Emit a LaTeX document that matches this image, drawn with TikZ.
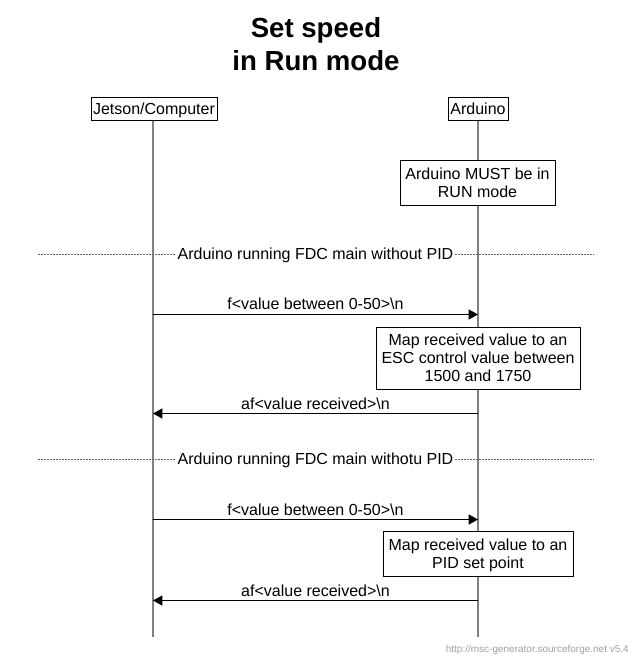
\documentclass[tikz,border=0pt]{standalone}
\usepackage{fontspec}
\setmainfont{Liberation Sans}
\usetikzlibrary{arrows.meta}
\definecolor{lifegray}{HTML}{808080}
\definecolor{dotgray}{HTML}{606060}
\definecolor{footgray}{HTML}{A0A0A0}
\begin{document}
\begin{tikzpicture}[x=0.75pt,y=-0.75pt,
  base/.style={font=\fontsize{12}{13.5}\selectfont},
  actor/.style={base,draw=black,line width=0.75pt,fill=white,inner sep=0pt,
    text height=8.6pt,text depth=0pt},
  note/.style={base,draw=black,line width=0.75pt,fill=white,inner sep=0pt,
    align=center,text depth=0pt},
  lifeline/.style={draw=lifegray,line width=1.5pt},
  divider/.style={draw=dotgray,line width=0.75pt,dash pattern=on 1.5pt off 0.75pt},
  divlabel/.style={base,fill=white,inner sep=1.5pt,text height=8.6pt,text depth=0pt},
  msg/.style={draw=black,line width=0.75pt,-{Triangle[length=7pt,width=7.5pt]}},
  msglabel/.style={base,anchor=base,inner sep=0pt},
  titlestyle/.style={font=\fontsize{20.7}{24.75}\selectfont\bfseries,align=center,inner sep=0pt,text depth=0pt}
]
\useasboundingbox (0,0) rectangle (632,657);

% title
\node[titlestyle] (title) at (316,43.6) {Set speed\\in Run mode};

% lifelines
\coordinate (jend) at (153,637);
\coordinate (aend) at (478,637);
\coordinate (jtop) at (153,120);
\coordinate (atop) at (478,120);
\draw[lifeline] (jtop) -- (jend);
\draw[lifeline] (atop) -- (aend);

% actors
\node[actor,minimum width=94.5pt,minimum height=17.25pt] (jetson) at (154,108.5) {Jetson/Computer};
\node[actor,minimum width=45pt,minimum height=17.25pt] (arduino) at (478,108.5) {Arduino};

% note 1
\node[note,minimum width=116.25pt,minimum height=33.75pt] (n1) at (477.5,183) {Arduino MUST be in\\RUN mode};

% divider 1
\coordinate (d1l) at (38,254.5);
\coordinate (d1r) at (594,254.5);
\draw[divider] (d1l) -- (d1r);
\node[divlabel] (dv1) at (315.5,254) {Arduino running FDC main without PID};

% message 1
\coordinate (j1) at (153,314.5);
\coordinate (a1) at (478,314.5);
\draw[msg] (j1) -- (a1);
\node[msglabel] (m1) at (315.5,309) {f<value between 0-50>\textbackslash n};

% note 2
\node[note,minimum width=153pt,minimum height=46.5pt] (n2) at (478,358) {Map received value to an\\ESC control value between\\1500 and 1750};

% message 2
\coordinate (a2) at (478,413.5);
\coordinate (j2) at (153,413.5);
\draw[msg] (a2) -- (j2);
\node[msglabel] (m2) at (315.5,409) {af<value received>\textbackslash n};

% divider 2
\coordinate (d2l) at (38,459.5);
\coordinate (d2r) at (594,459.5);
\draw[divider] (d2l) -- (d2r);
\node[divlabel] (dv2) at (315.5,459) {Arduino running FDC main withotu PID};

% message 3
\coordinate (j3) at (153,519.5);
\coordinate (a3) at (478,519.5);
\draw[msg] (j3) -- (a3);
\node[msglabel] (m3) at (315.5,515) {f<value between 0-50>\textbackslash n};

% note 3
\node[note,minimum width=142.5pt,minimum height=33.75pt] (n3) at (478,553.5) {Map received value to an\\PID set point};

% message 4
\coordinate (a4) at (478,600.5);
\coordinate (j4) at (153,600.5);
\draw[msg] (a4) -- (j4);
\node[msglabel] (m4) at (315.5,596) {af<value received>\textbackslash n};

% footer
\node[font=\fontsize{7.5}{9}\selectfont,text=footgray,anchor=base east,inner sep=0pt] (foot) at (629,652) {http://msc-generator.sourceforge.net v5.4};
\end{tikzpicture}
\end{document}
